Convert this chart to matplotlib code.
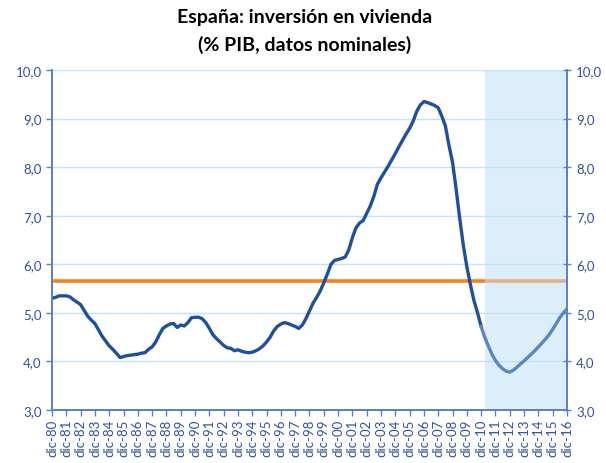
import matplotlib
matplotlib.use("Agg")
import matplotlib.pyplot as plt
import numpy as np

plt.rcParams["font.family"] = ["Lato", "DejaVu Sans"]

# quarterly values, dic-80 .. dic-16 (% PIB)
inversion = [
    5.30, 5.32, 5.35, 5.35,  # 1980
    5.35, 5.33, 5.27, 5.22,
    5.17, 5.05, 4.93, 4.85,
    4.78, 4.65, 4.52, 4.42,
    4.32, 4.25, 4.17, 4.08,
    4.10, 4.12, 4.13, 4.14,
    4.15, 4.17, 4.18, 4.25,
    4.30, 4.40, 4.55, 4.68,
    4.73, 4.77, 4.78, 4.70,
    4.75, 4.73, 4.80, 4.90,
    4.91, 4.91, 4.88, 4.80,  # 1990
    4.68, 4.55, 4.47, 4.40,
    4.33, 4.28, 4.27, 4.22,
    4.24, 4.21, 4.19, 4.18,
    4.19, 4.22, 4.26, 4.32,
    4.40, 4.50, 4.63, 4.72,
    4.77, 4.80, 4.78, 4.75,
    4.72, 4.68, 4.75, 4.88,
    5.04, 5.20, 5.32, 5.45,
    5.62, 5.80, 6.00, 6.08,
    6.10, 6.12, 6.15, 6.30,  # 2000
    6.55, 6.75, 6.85, 6.90,
    7.05, 7.20, 7.40, 7.65,
    7.78, 7.90, 8.02, 8.15,
    8.28, 8.42, 8.55, 8.68,
    8.80, 8.95, 9.15, 9.28,
    9.35, 9.33, 9.30, 9.27,
    9.22, 9.05, 8.85, 8.45,
    8.10, 7.55, 6.95, 6.40,
    5.95, 5.58, 5.25, 5.00,
    4.72,  # dic-10 (last actual)
    4.50, 4.32, 4.15, 4.02,  # forecast 2011
    3.92, 3.85, 3.80, 3.78,
    3.82, 3.88, 3.95, 4.01,
    4.08, 4.15, 4.22, 4.30,
    4.38, 4.46, 4.55, 4.66,
    4.78, 4.90, 5.00, 5.08,
]
media = 5.65
n_actual = 121  # up to dic-10
years = [f"dic-{y % 100:02d}" for y in range(1980, 2017)]

t = np.arange(len(inversion)) / 4.0

fig = plt.figure(figsize=(6.06, 4.64), dpi=100)
ax = fig.add_axes([0.0858, 0.1142, 0.8498, 0.7328])

axis_col = "#5b7fc2"
text_col = "#34509e"

ax.axvspan(30.25, 36, color="#dcEEF9", zorder=0, lw=0)
for v in range(4, 11):
    ax.axhline(v, color="#bfe4f6", lw=1.0, zorder=1)

ax.plot([0, 30.25], [media, media], color="#f5821f", lw=2.6, zorder=2,
        solid_capstyle="butt")
ax.plot([30.25, 36], [media, media], color="#e2b388", lw=2.6, zorder=2,
        solid_capstyle="butt")

ax.plot(t[:n_actual], inversion[:n_actual], color="#1f4f9f", lw=2.4, zorder=3)
ax.plot(t[n_actual - 1:], inversion[n_actual - 1:], color="#5a85c6", lw=2.4,
        zorder=3)

ax.set_xlim(0, 36)
ax.set_ylim(3, 10)
ax.set_xticks(np.arange(37))
ax.set_xticklabels(years, rotation=90, fontsize=9.5, color=text_col)
ax.set_yticks(np.arange(3, 11))
ylabels = [f"{v},0" for v in range(3, 11)]
ax.set_yticklabels(ylabels, fontsize=9.5, color=text_col)

ax2 = ax.twinx()
ax2.set_ylim(3, 10)
ax2.set_yticks(np.arange(3, 11))
ax2.set_yticklabels(ylabels, fontsize=9.5, color=text_col)

for a in (ax, ax2):
    a.spines["top"].set_visible(False)
    for s in ("left", "right", "bottom"):
        a.spines[s].set_color(axis_col)
        a.spines[s].set_linewidth(1.2)
    a.tick_params(colors=axis_col, labelcolor=text_col, length=4, width=1)
ax.tick_params(axis="x", pad=2)
ax2.tick_params(axis="y", direction="inout", length=6)

fig.text(0.503, 0.962, "España: inversión en vivienda", ha="center", va="center",
         fontsize=14, fontweight="bold")
fig.text(0.503, 0.903, "(% PIB, datos nominales)", ha="center", va="center",
         fontsize=14, fontweight="bold")

fig.savefig("out.png", dpi=100)
